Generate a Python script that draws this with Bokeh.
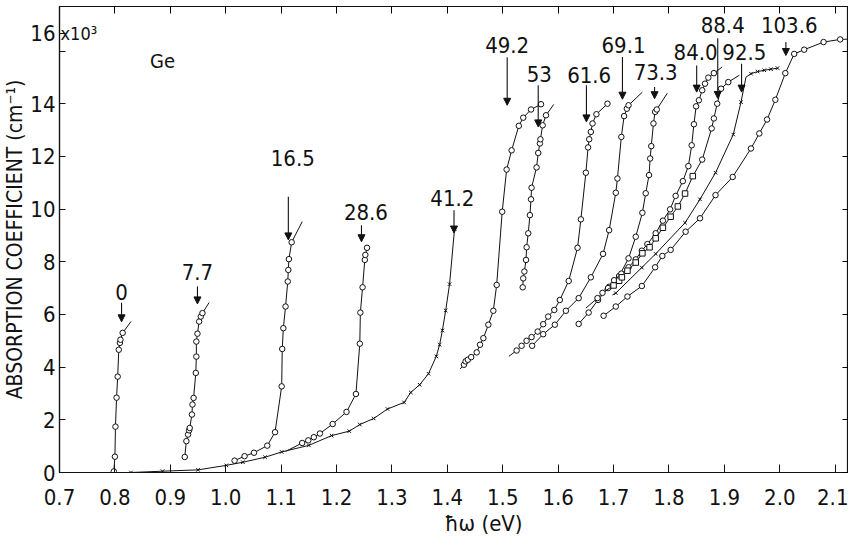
from bokeh.plotting import figure
from bokeh.models import (ColumnDataSource, Range1d, FixedTicker, LinearAxis, Arrow,
                          NormalHead, LabelSet, Label, PrintfTickFormatter)
from bokeh.embed import file_html
from bokeh.resources import INLINE
from bokeh.core.properties import value

FONT = "DejaVu Sans Condensed, Liberation Sans"

# ---------------- data (photon energy eV, absorption coefficient 1e3 cm^-1) ----------
X_TICKS = [0.7, 0.8, 0.9, 1.0, 1.1, 1.2, 1.3, 1.4, 1.5, 1.6, 1.7, 1.8, 1.9, 2.0, 2.1]
Y_TICKS = [0, 2, 4, 6, 8, 10, 12, 14, 16, 16.67]
Y_TICK_LABELS = {16: "", 16.67: "16"}

# marker code per point: o circle, x cross, s square, - none
C0_X = [0.798, 0.800, 0.801, 0.803, 0.805, 0.807, 0.809, 0.810, 0.814, 0.829]
C0_Y = [0.04, 0.60, 1.74, 2.84, 3.64, 4.66, 4.92, 5.04, 5.30, 5.73]
C0_M = "ooooooooo-"

C7_X = [0.926, 0.929, 0.932, 0.934, 0.935, 0.939, 0.940, 0.942, 0.946, 0.947, 0.947, 0.949, 0.952, 0.955, 0.958, 0.970]
C7_Y = [0.59, 1.19, 1.44, 1.60, 1.69, 2.20, 2.58, 2.83, 3.78, 4.40, 4.97, 5.27, 5.73, 5.92, 6.05, 6.45]
C7_M = "ooooooooooooooo-"

C16_X = [1.016, 1.034, 1.051, 1.075, 1.089, 1.101, 1.102, 1.104, 1.108, 1.112, 1.113, 1.114, 1.119, 1.138]
C16_Y = [0.45, 0.62, 0.75, 1.02, 1.53, 3.27, 4.69, 5.48, 6.30, 7.25, 7.69, 8.10, 8.74, 9.52]
C16_M = "ooooooooooooo-"

C28_X = [1.108, 1.138, 1.149, 1.159, 1.170, 1.193, 1.218, 1.235, 1.242, 1.243, 1.247, 1.251, 1.252, 1.255]
C28_Y = [0.80, 1.12, 1.22, 1.34, 1.48, 1.84, 2.30, 2.98, 4.89, 6.07, 7.03, 8.07, 8.26, 8.53]
C28_M = "-ooooooooooooo"

C41_X = [0.829, 0.886, 0.950, 1.001, 1.031, 1.071, 1.101, 1.150, 1.191, 1.223, 1.242, 1.267, 1.292,
         1.322, 1.334, 1.350, 1.366, 1.380, 1.386, 1.391, 1.397, 1.404, 1.413]
C41_Y = [0.00, 0.05, 0.10, 0.27, 0.39, 0.58, 0.78, 1.03, 1.40, 1.57, 1.82, 2.05, 2.41,
         2.66, 3.04, 3.33, 3.75, 4.41, 4.85, 5.39, 6.15, 7.15, 9.25]
C41_M = "xxxxxxxxxxxxxxxxxxxxxxx"

C49_X = [1.423, 1.430, 1.433, 1.437, 1.443, 1.453, 1.459, 1.465, 1.474, 1.483, 1.489, 1.499,
         1.507, 1.516, 1.529, 1.537, 1.551, 1.569]
C49_Y = [3.93, 4.09, 4.22, 4.28, 4.38, 4.56, 4.85, 5.10, 5.61, 6.14, 7.12, 9.90,
         11.50, 12.23, 13.16, 13.47, 13.78, 13.98]
C49_M = "-ooooooooooooooooo"

C53_X = [1.536, 1.537, 1.539, 1.542, 1.543, 1.546, 1.549, 1.551, 1.552, 1.561, 1.564, 1.567,
         1.568, 1.572, 1.578, 1.592]
C53_Y = [7.03, 7.37, 7.63, 8.07, 8.55, 9.08, 9.77, 10.37, 10.81, 11.58, 12.13, 12.49,
         12.65, 13.18, 13.56, 13.97]
C53_M = "ooooooooooooooo-"

C61_X = [1.511, 1.525, 1.534, 1.543, 1.552, 1.563, 1.573, 1.582, 1.593, 1.603, 1.619, 1.635,
         1.641, 1.650, 1.654, 1.656, 1.659, 1.662, 1.669, 1.689]
C61_Y = [4.41, 4.63, 4.81, 5.00, 5.14, 5.35, 5.63, 5.92, 6.17, 6.55, 7.27, 8.53,
         9.61, 11.38, 12.34, 12.65, 12.93, 13.25, 13.60, 14.00]
C61_M = "-ooooooooooooooooooo"

C69_X = [1.553, 1.573, 1.594, 1.614, 1.637, 1.659, 1.681, 1.692, 1.704, 1.707, 1.714, 1.719,
         1.724, 1.727, 1.752]
C69_Y = [4.81, 5.25, 5.61, 6.14, 6.62, 7.41, 8.30, 9.20, 10.62, 11.16, 12.74, 13.53,
         13.81, 13.94, 14.44]
C69_M = "oooooooooooooo-"

C73_X = [1.683, 1.692, 1.710, 1.727, 1.740, 1.752, 1.758, 1.764, 1.766, 1.768, 1.772, 1.775,
         1.778, 1.797]
C73_Y = [6.95, 7.05, 7.46, 8.13, 8.95, 9.86, 10.60, 11.29, 11.92, 12.39, 13.25, 13.69,
         13.78, 14.40]
C73_M = "-oooooooooooo-"

C84_X = [1.637, 1.655, 1.672, 1.690, 1.701, 1.714, 1.727, 1.740, 1.751, 1.761, 1.776, 1.789,
         1.802, 1.812, 1.825, 1.835, 1.841, 1.845, 1.849, 1.854, 1.860, 1.865, 1.871, 1.881, 1.896]
C84_Y = [5.64, 6.07, 6.55, 7.00, 7.30, 7.55, 7.79, 8.09, 8.42, 8.67, 9.08, 9.56,
         9.99, 10.50, 11.06, 11.63, 12.42, 13.22, 13.90, 14.13, 14.51, 14.76, 14.99, 15.16, 15.39]
C84_M = "oooooooooooooooooooooooo-"

C88_X = [1.650, 1.671, 1.680, 1.700, 1.710, 1.715, 1.725, 1.740, 1.752, 1.765, 1.776, 1.789,
         1.803, 1.816, 1.829, 1.843, 1.860, 1.877, 1.881, 1.887, 1.894, 1.907, 1.927]
C88_Y = [6.24, 6.62, 6.82, 7.10, 7.28, 7.41, 7.66, 7.97, 8.32, 8.55, 8.89, 9.29,
         9.71, 10.10, 10.59, 11.25, 11.88, 13.06, 13.44, 14.00, 14.57, 14.82, 15.08]
C88_M = "-oosssssssssssssoooooo-"

C92_X = [1.698, 1.704, 1.751, 1.776, 1.829, 1.856, 1.884, 1.916, 1.930, 1.939, 1.948, 1.960,
         1.972, 1.984, 1.996]
C92_Y = [6.74, 6.81, 7.78, 8.30, 9.48, 10.37, 11.38, 12.83, 14.06, 15.01, 15.14, 15.22,
         15.27, 15.31, 15.35]
C92_M = "-xxxxxxxx-xxxxx"

C103_X = [1.682, 1.704, 1.725, 1.751, 1.775, 1.788, 1.803, 1.830, 1.856, 1.884, 1.915, 1.948,
          1.963, 1.977, 1.992, 2.010, 2.026, 2.044, 2.079, 2.109, 2.148]
C103_Y = [5.95, 6.30, 6.68, 7.08, 7.79, 8.22, 8.45, 9.14, 9.65, 10.53, 11.22, 12.30,
          12.87, 13.40, 14.15, 15.16, 15.89, 16.05, 16.34, 16.44, 16.47]
C103_M = "ooooooooooooooooooooo"

# curve labels (pressure) with their arrows
LAB_TEXT = ["0", "7.7", "16.5", "28.6", "41.2", "49.2", "53", "61.6", "69.1", "73.3",
            "84.0", "88.4", "92.5", "103.6"]
LAB_X = [0.812, 0.949, 1.121, 1.253, 1.409, 1.508, 1.566, 1.656, 1.718, 1.776,
         1.848, 1.897, 1.936, 2.017]
LAB_Y = [6.86, 7.61, 11.93, 9.90, 10.42, 16.21, 15.14, 15.08, 16.21, 15.20,
         15.96, 16.97, 15.96, 17.00]
ARR_X = [0.812, 0.949, 1.113, 1.245, 1.412, 1.508, 1.564, 1.651, 1.716, 1.774,
         1.850, 1.888, 1.931, 2.011]
ARR_Y0 = [6.44, 7.06, 10.47, 9.39, 9.96, 15.76, 14.70, 14.70, 15.77, 14.63,
          15.45, 16.48, 15.52, 16.34]
ARR_Y1 = [5.72, 6.40, 8.83, 8.76, 9.09, 13.94, 13.12, 13.31, 14.17, 14.19,
          14.44, 14.20, 14.44, 15.83]

CURVES = [(C0_X, C0_Y, C0_M), (C7_X, C7_Y, C7_M), (C16_X, C16_Y, C16_M), (C28_X, C28_Y, C28_M),
          (C41_X, C41_Y, C41_M), (C49_X, C49_Y, C49_M), (C53_X, C53_Y, C53_M), (C61_X, C61_Y, C61_M),
          (C69_X, C69_Y, C69_M), (C73_X, C73_Y, C73_M), (C84_X, C84_Y, C84_M), (C88_X, C88_Y, C88_M),
          (C92_X, C92_Y, C92_M), (C103_X, C103_Y, C103_M)]

INK = "#111111"

p = figure(width=848, height=538, output_backend="svg", toolbar_location=None,
           x_range=Range1d(0.7, 2.124), y_range=Range1d(0, 17.69),
           min_border_left=50, min_border_right=0, min_border_top=6, min_border_bottom=65,
           background_fill_color="white", border_fill_color="white")
p.grid.visible = False
p.outline_line_color = INK
p.outline_line_width = 1.2

for ax in (p.xaxis[0], p.yaxis[0]):
    ax.axis_line_color = INK
    ax.axis_line_width = 1.2
    ax.major_tick_line_color = INK
    ax.minor_tick_line_color = None
    ax.major_tick_out = 0
    ax.major_label_text_font = FONT
    ax.major_label_text_color = INK
    ax.major_label_text_font_size = "22px"
    ax.axis_label_text_font = FONT
    ax.axis_label_text_font_style = "normal"
    ax.axis_label_text_color = INK

p.xaxis[0].ticker = FixedTicker(ticks=X_TICKS)
p.xaxis[0].formatter = PrintfTickFormatter(format="%.1f")
p.xaxis[0].major_tick_in = 8
p.xaxis[0].major_label_standoff = 16
p.xaxis[0].axis_label = "\u2003\u2003\u2003\u0127\u03c9 (eV)"
p.xaxis[0].axis_label_standoff = 3
p.xaxis[0].axis_label_text_font_size = "22px"
p.yaxis[0].ticker = FixedTicker(ticks=Y_TICKS)
p.yaxis[0].major_tick_in = 6
p.yaxis[0].major_label_standoff = 4
p.yaxis[0].major_label_overrides = Y_TICK_LABELS
p.yaxis[0].axis_label = "ABSORPTION COEFFICIENT (cm\u207b\u00b9)"
p.yaxis[0].axis_label_standoff = 0
p.yaxis[0].axis_label_text_font_size = "21px"

# top and right axes: inward ticks only
top = LinearAxis(ticker=FixedTicker(ticks=X_TICKS), major_tick_in=7, major_tick_out=0,
                 minor_tick_line_color=None, major_label_text_font_size="1px",
                 major_label_text_alpha=0, major_label_standoff=0, axis_line_color=INK)
right = LinearAxis(ticker=FixedTicker(ticks=Y_TICKS[:-1]), major_tick_in=6, major_tick_out=0,
                   minor_tick_line_color=None, major_label_text_font_size="1px",
                   major_label_text_alpha=0, major_label_standoff=0, axis_line_color=INK)
p.add_layout(top, "above")
p.add_layout(right, "right")

for cx, cy, cm in CURVES:
    p.line(cx, cy, line_color=INK, line_width=1.0)
    for code, marker in (("o", "circle"), ("s", "square"), ("x", "x")):
        mx = [x for x, m in zip(cx, cm) if m == code]
        my = [y for y, m in zip(cy, cm) if m == code]
        if mx:
            p.scatter(mx, my, marker=marker, size=5.5 if code != "x" else 5,
                      line_color=INK, line_width=1, fill_color="white")

for i in range(len(ARR_X)):
    p.add_layout(Arrow(x_start=ARR_X[i], y_start=ARR_Y0[i], x_end=ARR_X[i], y_end=ARR_Y1[i],
                       line_color=INK, line_width=1.1,
                       end=NormalHead(size=7, fill_color=INK, line_color=INK)))

lab_src = ColumnDataSource(dict(x=LAB_X, y=LAB_Y, text=LAB_TEXT))
p.add_layout(LabelSet(x="x", y="y", text="text", source=lab_src, text_align="center",
                      text_baseline="middle", text_font=value(FONT),
                      text_font_size="22px", text_color=INK))

p.add_layout(Label(x=0.886, y=15.64, text="Ge", text_align="center", text_baseline="middle",
                   text_font=FONT, text_font_size="20px", text_color=INK))
p.add_layout(Label(x=0.7018, y=16.67, text="x10\u00b3", text_align="left", text_baseline="middle",
                   text_font=FONT, text_font_size="18px", text_color=INK))

open("out.html", "w").write(file_html(p, INLINE))
